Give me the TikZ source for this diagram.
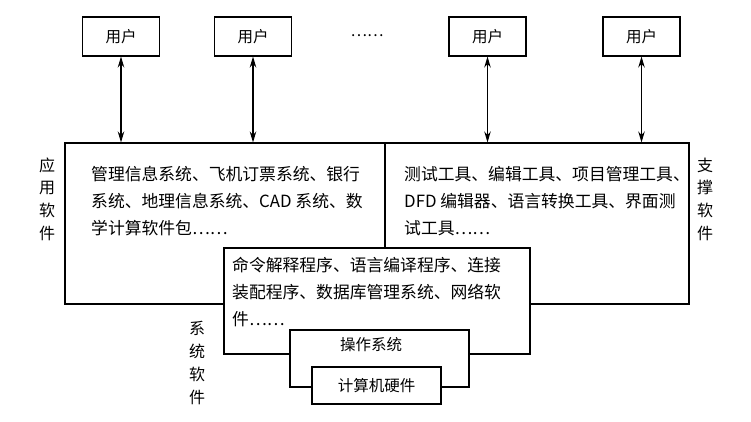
\documentclass[tikz,border=0pt]{standalone}
\usepackage{fontspec}
\setmainfont{Noto Sans CJK SC}
\usetikzlibrary{arrows.meta}

\begin{document}
\begin{tikzpicture}[x=1pt,y=-1pt,
  box/.style={draw, line width=1.1pt, fill=white, inner sep=0pt},
  userbox/.style={box, minimum width=77pt, minimum height=39pt, font=\fontsize{15.5}{18}\selectfont},
  txt/.style={font=\fontsize{16.8}{27}\selectfont, align=left, anchor=north west, inner sep=0pt},
  side/.style={font=\fontsize{16}{22.7}\selectfont, align=center, inner sep=0pt},
  link/.style={{Stealth[length=11pt,width=6.5pt]}-{Stealth[length=11pt,width=6.5pt]}, line width=1.1pt}]
\useasboundingbox (0,0) rectangle (751,422);

% the two halves of the big box
\node [box, minimum width=320pt, minimum height=161pt] (app) at (225,223.5) {};
\node [box, minimum width=304pt, minimum height=161pt] (sup) at (537,223.5) {};

\node [box, minimum width=306pt, minimum height=106pt] (sys) at (377,301) {};
\node [box, minimum width=179pt, minimum height=57pt] (os) at (379.5,358.5) {};
\node [box, minimum width=129pt, minimum height=37pt, font=\fontsize{15.5}{18}\selectfont] (hw) at (376.5,385.5) {计算机硬件};
\node [font=\fontsize{15.5}{18}\selectfont] (oslabel) at (371,345) {操作系统};

\node [userbox] (u1) at (121,36.5) {用户};
\node [userbox] (u2) at (253,36.5) {用户};
\node [userbox] (u3) at (487.5,36.5) {用户};
\node [userbox] (u4) at (641.5,36.5) {用户};
\node [font=\fontsize{15.5}{18}\selectfont] (more) at (367,36) {……};

\draw [link] (u1) -- (u1 |- app.north);
\draw [link] (u2) -- (u2 |- app.north);
\draw [link] (u3) -- (u3 |- sup.north);
\draw [link] (u4) -- (u4 |- sup.north);

\node [txt] (apptext) at (91,166) {管理信息系统、飞机订票系统、银行\\系统、地理信息系统、CAD 系统、数\\学计算软件包……};
\node [txt] (suptext) at (404,166) {测试工具、编辑工具、项目管理工具、\\DFD 编辑器、语言转换工具、界面测\\试工具……};
\node [txt] (systext) at (232,257) {命令解释程序、语言编译程序、连接\\装配程序、数据库管理系统、网络软\\件……};

\node [side] (appname) at (47,199) {应\\用\\软\\件};
\node [side] (supname) at (705,199) {支\\撑\\软\\件};
\node [side] (sysname) at (197,363) {系\\统\\软\\件};
\end{tikzpicture}
\end{document}
